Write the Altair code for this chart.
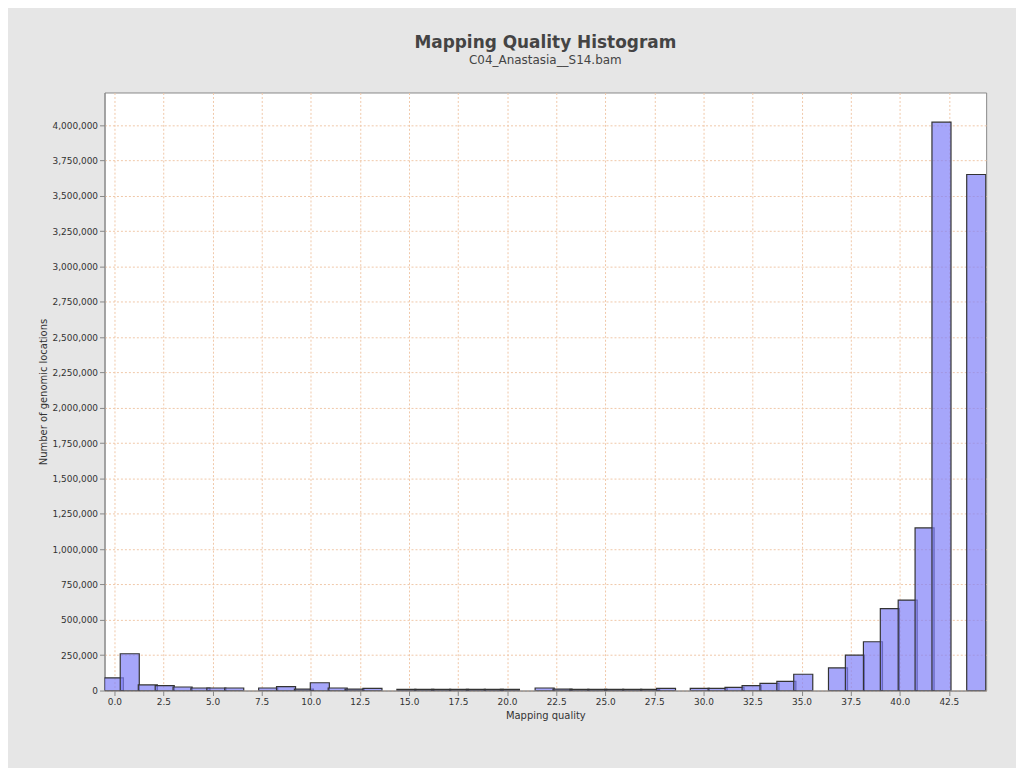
import altair as alt
import pandas as pd

lefts = [-0.51, 0.30, 1.22, 2.08, 2.99, 3.90, 4.71, 5.62, 7.35, 8.26, 9.17, 9.98, 10.89, 11.75, 12.66,
         14.39, 15.30, 16.16, 17.07, 17.93, 18.84, 19.66, 21.43, 22.34, 23.20, 24.11, 24.97, 25.89, 26.80, 27.61,
         29.33, 30.24, 31.10, 31.97, 32.88, 33.74, 34.60, 36.37, 37.23, 38.15, 39.01, 39.92, 40.78, 41.64, 43.41]
values = [90000, 260000, 40000, 35000, 25000, 18000, 18000, 18000, 18000, 28000, 10000, 55000, 18000, 10000, 15000,
          8000, 8000, 8000, 8000, 8000, 8000, 8000, 18000, 10000, 8000, 8000, 8000, 8000, 8000, 15000,
          15000, 15000, 22000, 35000, 50000, 65000, 115000, 160000, 250000, 345000, 580000, 640000, 1150000, 4020000, 3650000]

df = pd.DataFrame({"x": lefts, "x2": [l + 0.97 for l in lefts], "y": values})

chart = alt.Chart(df).mark_bar(
    fill="#8080f8", fillOpacity=0.7, stroke="#333333", strokeWidth=1.2, clip=True
).encode(
    x=alt.X("x:Q", scale=alt.Scale(domain=[-0.5, 44.4], nice=False, zero=False),
            axis=alt.Axis(title="Mapping quality", values=[i * 2.5 for i in range(18)], format=".1f",
                          gridDash=[2, 2], gridColor="#f0c8a8", labelFontSize=9, titleFontSize=10,
                          titleFontWeight="normal", labelColor="#333", titleColor="#333", domainColor="#888")),
    x2="x2:Q",
    y=alt.Y("y:Q", scale=alt.Scale(domain=[0, 4230000], nice=False),
            axis=alt.Axis(title="Number of genomic locations", values=[i * 250000 for i in range(17)],
                          format=",d", gridDash=[2, 2], gridColor="#f0c8a8", labelFontSize=9, titleFontSize=10,
                          titleFontWeight="normal", labelColor="#333", titleColor="#333", domainColor="#888")),
    y2=alt.datum(0),
).properties(
    width=886, height=601,
    padding={"left": 30, "top": 24, "right": 30, "bottom": 60},
    title=alt.TitleParams("Mapping Quality Histogram", subtitle="C04_Anastasia__S14.bam",
                          fontSize=17, color="#444", subtitleFontSize=12, subtitleColor="#444", offset=26),
    background="#e6e6e6",
).configure(font="DejaVu Sans").configure_view(fill="white", stroke="#888")

chart.save("out.html", embed_options={"renderer": "svg", "actions": False})
